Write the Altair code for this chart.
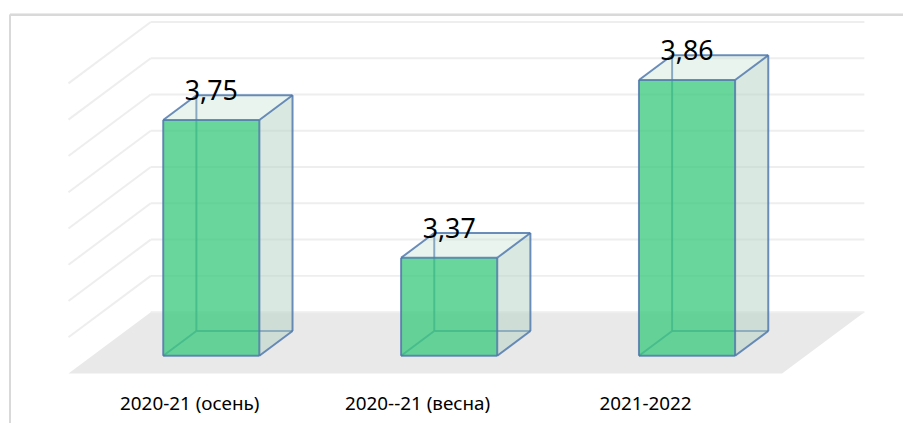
import altair as alt
import pandas as pd

# ---- data ----
CATEGORIES = ["2020-21 (осень)", "2020--21 (весна)", "2021-2022"]
VALUES = [3.75, 3.37, 3.86]
VALUE_LABELS = ["3,75", "3,37", "3,86"]
GRID_VALUES = [3.1, 3.2, 3.3, 3.4, 3.5, 3.6, 3.7, 3.8, 3.9]

# ---- pseudo-3D geometry (data units) ----
BASE = GRID_VALUES[0]
DX = -0.3458          # x shift per unit of depth
DY = -0.1694          # value shift per unit of depth
Z_BACK, Z_FRONT = 0.3065, 0.7097
HALF = 0.2021
WALL_L, WALL_R = -0.5, len(CATEGORIES) - 0.5
X_DOMAIN = [-1.0917, 2.6625]
Y_DOMAIN = [2.7995, 3.9197]
W, H = 901, 410
LABEL_STEP, LABEL_SHIFT = 0.958, -0.336   # category-label spacing along the floor edge

xs = alt.Scale(domain=X_DOMAIN, nice=False, zero=False)
ys = alt.Scale(domain=Y_DOMAIN, nice=False, zero=False)

# floor
floor = pd.DataFrame({
    "y": [BASE, BASE + DY],
    "x": [WALL_L, WALL_L + DX],
    "x2": [WALL_R, WALL_R + DX],
})
# back-wall gridlines and side-wall diagonals
grid = pd.DataFrame({"y": GRID_VALUES, "x": WALL_L, "x2": WALL_R})
diag = pd.DataFrame({
    "x": WALL_L, "y": GRID_VALUES[1:],
    "x2": WALL_L + DX, "y2": [g + DY for g in GRID_VALUES[1:]],
})

side_rows, top_rows, front_rows, hid_edges, vis_edges = [], [], [], [], []
for i, (c, v) in enumerate(zip(CATEGORIES, VALUES)):
    def P(side, z, val):
        return (i + side * HALF + DX * z, val + DY * z)
    for z in (Z_FRONT, Z_BACK):
        x, _ = P(1, z, v)
        side_rows.append({"cat": c, "x": x, "top": v + DY * z, "bot": BASE + DY * z})
        top_rows.append({"cat": c, "y": v + DY * z,
                         "x": i - HALF + DX * z, "x2": i + HALF + DX * z})
    front_rows.append({"cat": c, "x": i - HALF + DX * Z_FRONT, "x2": i + HALF + DX * Z_FRONT,
                       "y": v + DY * Z_FRONT, "y2": BASE + DY * Z_FRONT})
    fbl, fbr = P(-1, Z_FRONT, BASE), P(1, Z_FRONT, BASE)
    ftl, ftr = P(-1, Z_FRONT, v), P(1, Z_FRONT, v)
    bbl, bbr = P(-1, Z_BACK, BASE), P(1, Z_BACK, BASE)
    btl, btr = P(-1, Z_BACK, v), P(1, Z_BACK, v)
    for a, b in [(bbl, btl), (bbl, bbr), (fbl, bbl)]:
        hid_edges.append({"x": a[0], "y": a[1], "x2": b[0], "y2": b[1]})
    for a, b in [(fbl, fbr), (fbr, ftr), (ftr, ftl), (ftl, fbl),
                 (bbr, btr), (btr, btl), (ftl, btl), (ftr, btr), (fbr, bbr)]:
        vis_edges.append({"x": a[0], "y": a[1], "x2": b[0], "y2": b[1]})

bars = pd.DataFrame({"cat": CATEGORIES, "value": VALUES, "label": VALUE_LABELS,
                     "idx": list(range(len(CATEGORIES)))})

EDGE = "#5179ad"

border_top = alt.Chart(bars).mark_rule(color="#d9d9d9", strokeWidth=2).encode(
    x=alt.value(0), x2=alt.value(W + 5), y=alt.value(0))
border_left = alt.Chart(bars).mark_rule(color="#d9d9d9", strokeWidth=2).encode(
    x=alt.value(0), y=alt.value(0), y2=alt.value(H + 5))

floor_l = alt.Chart(floor).mark_area(orient="horizontal", color="#e9e9e9").encode(
    y=alt.Y("y:Q", scale=ys, axis=None),
    x=alt.X("x:Q", scale=xs, axis=None), x2="x2:Q")

grid_l = alt.Chart(grid).mark_rule(color="#eeeeee", strokeWidth=2).encode(
    y=alt.Y("y:Q", scale=ys, axis=None),
    x=alt.X("x:Q", scale=xs, axis=None), x2="x2:Q")

diag_l = alt.Chart(diag).mark_rule(color="#eeeeee", strokeWidth=2).encode(
    x=alt.X("x:Q", scale=xs, axis=None), y=alt.Y("y:Q", scale=ys, axis=None),
    x2="x2:Q", y2="y2:Q")

hid_l = alt.Chart(pd.DataFrame(hid_edges)).mark_rule(color=EDGE, strokeWidth=2, opacity=0.85).encode(
    x=alt.X("x:Q", scale=xs, axis=None), y=alt.Y("y:Q", scale=ys, axis=None),
    x2="x2:Q", y2="y2:Q")

side_l = alt.Chart(pd.DataFrame(side_rows)).mark_area(
    orient="vertical", color="#b4d2c3", opacity=0.5).encode(
    x=alt.X("x:Q", scale=xs, axis=None),
    y=alt.Y("top:Q", scale=ys, axis=None), y2="bot:Q",
    detail="cat:N")

top_l = alt.Chart(pd.DataFrame(top_rows)).mark_area(
    orient="horizontal", color="#c4dfd1", opacity=0.35).encode(
    y=alt.Y("y:Q", scale=ys, axis=None),
    x=alt.X("x:Q", scale=xs, axis=None), x2="x2:Q",
    detail="cat:N")

front_l = alt.Chart(pd.DataFrame(front_rows)).mark_rect(
    color="#3fcb80", opacity=0.78).encode(
    x=alt.X("x:Q", scale=xs, axis=None), x2="x2:Q",
    y=alt.Y("y:Q", scale=ys, axis=None), y2="y2:Q")

vis_l = alt.Chart(pd.DataFrame(vis_edges)).mark_rule(color=EDGE, strokeWidth=2, opacity=0.85).encode(
    x=alt.X("x:Q", scale=xs, axis=None), y=alt.Y("y:Q", scale=ys, axis=None),
    x2="x2:Q", y2="y2:Q")

vlab = alt.Chart(bars).transform_calculate(
    lx=f"datum.idx + {DX} * {Z_FRONT}",
    ly=f"datum.value + {DY} * {Z_FRONT}",
).mark_text(font="Noto Sans", fontSize=27, color="#000000", align="center",
            baseline="alphabetic", dy=-20).encode(
    x=alt.X("lx:Q", scale=xs, axis=None), y=alt.Y("ly:Q", scale=ys, axis=None),
    text="label:N")

clab = alt.Chart(bars).transform_calculate(
    lx=f"datum.idx * {LABEL_STEP} + {LABEL_SHIFT}",
    ly=f"{BASE} + {DY}",
).mark_text(font="Noto Sans", fontSize=19, color="#000000", align="center",
            baseline="alphabetic", dy=37).encode(
    x=alt.X("lx:Q", scale=xs, axis=None), y=alt.Y("ly:Q", scale=ys, axis=None),
    text="cat:N")

chart = alt.layer(
    border_top, border_left,
    floor_l, grid_l, diag_l, hid_l, side_l, top_l, front_l, vis_l, vlab, clab
).properties(
    width=W, height=H,
    autosize=alt.AutoSizeParams(type="none"),
    padding={"left": 2, "top": 5, "right": 0, "bottom": 0},
    background="white",
).configure_view(strokeOpacity=0)

chart.save("out.html", embed_options={"renderer": "svg", "actions": False})
